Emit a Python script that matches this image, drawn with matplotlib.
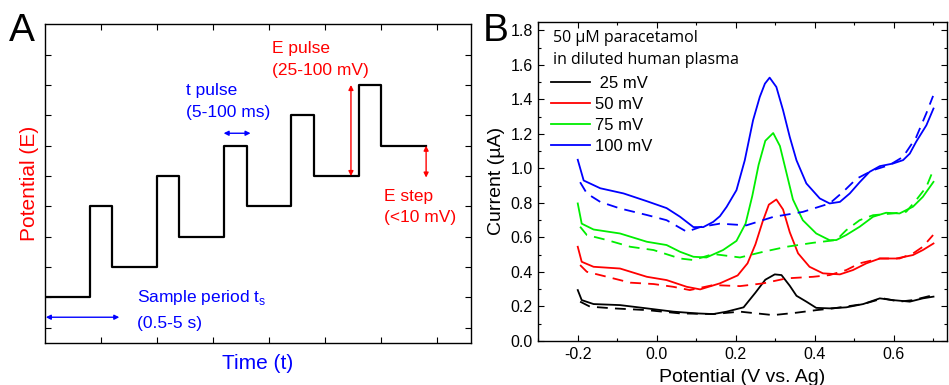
import numpy as np
import matplotlib
matplotlib.use('Agg')
import matplotlib.pyplot as plt

plt.rcParams['font.family'] = ['Liberation Sans', 'DejaVu Sans']

# panel A - pulse waveform (time in sample-period units, potential in step units)
wave_t = [0, 0.8, 0.8, 1.2, 1.2, 2.0, 2.0, 2.4, 2.4, 3.2, 3.2, 3.6, 3.6, 4.4, 4.4, 4.8, 4.8, 5.6, 5.6, 6.0, 6.0, 6.8]
wave_e = [1, 1, 4, 4, 2, 2, 5, 5, 3, 3, 6, 6, 4, 4, 7, 7, 5, 5, 8, 8, 6, 6]

# panel B - DPV curves, solid = sample, dashed = blank
black_x = [-0.200, -0.190, -0.160, -0.093, -0.025, 0.042, 0.101, 0.143, 0.177, 0.220, 0.250, 0.275, 0.299, 0.316, 0.337, 0.354, 0.379, 0.404, 0.438, 0.480, 0.523, 0.565, 0.598, 0.641, 0.674, 0.701]
black_y = [0.295, 0.237, 0.214, 0.208, 0.189, 0.170, 0.160, 0.156, 0.170, 0.195, 0.280, 0.355, 0.386, 0.382, 0.320, 0.262, 0.228, 0.192, 0.189, 0.195, 0.214, 0.247, 0.237, 0.228, 0.247, 0.257]
black_dx = [-0.194, -0.169, -0.110, -0.025, 0.059, 0.143, 0.211, 0.253, 0.295, 0.354, 0.405, 0.447, 0.523, 0.573, 0.615, 0.649, 0.701]
black_dy = [0.228, 0.199, 0.189, 0.179, 0.160, 0.156, 0.170, 0.160, 0.150, 0.164, 0.179, 0.189, 0.214, 0.247, 0.228, 0.237, 0.266]

red_x = [-0.200, -0.190, -0.160, -0.093, -0.025, 0.025, 0.076, 0.110, 0.160, 0.205, 0.230, 0.250, 0.268, 0.284, 0.303, 0.320, 0.337, 0.358, 0.387, 0.421, 0.464, 0.497, 0.531, 0.565, 0.607, 0.649, 0.674, 0.701]
red_y = [0.546, 0.459, 0.430, 0.420, 0.372, 0.353, 0.314, 0.299, 0.334, 0.380, 0.450, 0.560, 0.690, 0.790, 0.820, 0.762, 0.630, 0.508, 0.430, 0.392, 0.386, 0.411, 0.450, 0.478, 0.478, 0.498, 0.527, 0.565]
red_dx = [-0.194, -0.177, -0.126, -0.067, -0.008, 0.042, 0.084, 0.143, 0.211, 0.270, 0.329, 0.396, 0.438, 0.480, 0.514, 0.565, 0.615, 0.649, 0.674, 0.700]
red_dy = [0.440, 0.401, 0.372, 0.338, 0.330, 0.314, 0.295, 0.324, 0.318, 0.334, 0.363, 0.372, 0.382, 0.411, 0.450, 0.478, 0.478, 0.507, 0.546, 0.614]

green_x = [-0.200, -0.190, -0.160, -0.093, -0.025, 0.025, 0.059, 0.093, 0.126, 0.168, 0.202, 0.225, 0.242, 0.258, 0.275, 0.295, 0.312, 0.328, 0.345, 0.370, 0.404, 0.438, 0.455, 0.480, 0.514, 0.548, 0.581, 0.615, 0.649, 0.674, 0.701]
green_y = [0.797, 0.680, 0.646, 0.623, 0.575, 0.556, 0.517, 0.488, 0.484, 0.527, 0.580, 0.680, 0.840, 1.020, 1.160, 1.205, 1.130, 0.980, 0.820, 0.700, 0.623, 0.584, 0.585, 0.614, 0.662, 0.720, 0.743, 0.739, 0.778, 0.835, 0.922]
green_dx = [-0.194, -0.177, -0.126, -0.067, -0.008, 0.059, 0.093, 0.143, 0.211, 0.270, 0.329, 0.396, 0.455, 0.480, 0.514, 0.548, 0.598, 0.632, 0.657, 0.683, 0.701]
green_dy = [0.662, 0.614, 0.585, 0.546, 0.527, 0.478, 0.469, 0.504, 0.484, 0.517, 0.546, 0.569, 0.585, 0.642, 0.700, 0.729, 0.739, 0.749, 0.816, 0.893, 0.994]

blue_x = [-0.200, -0.185, -0.143, -0.084, -0.025, 0.025, 0.059, 0.093, 0.118, 0.143, 0.160, 0.177, 0.202, 0.223, 0.244, 0.261, 0.274, 0.286, 0.303, 0.320, 0.337, 0.354, 0.379, 0.413, 0.438, 0.464, 0.489, 0.514, 0.539, 0.565, 0.598, 0.624, 0.641, 0.657, 0.683, 0.701]
blue_y = [1.050, 0.930, 0.885, 0.855, 0.810, 0.770, 0.720, 0.660, 0.660, 0.690, 0.723, 0.777, 0.874, 1.047, 1.279, 1.414, 1.491, 1.526, 1.472, 1.337, 1.182, 1.047, 0.913, 0.826, 0.797, 0.806, 0.855, 0.920, 0.980, 1.013, 1.028, 1.048, 1.086, 1.154, 1.250, 1.347]
blue_dx = [-0.194, -0.177, -0.143, -0.093, -0.025, 0.025, 0.076, 0.110, 0.160, 0.227, 0.295, 0.370, 0.438, 0.472, 0.506, 0.548, 0.590, 0.624, 0.657, 0.683, 0.700]
blue_dy = [0.920, 0.855, 0.806, 0.768, 0.730, 0.700, 0.633, 0.660, 0.680, 0.670, 0.719, 0.748, 0.797, 0.864, 0.940, 0.990, 1.020, 1.067, 1.180, 1.320, 1.420]

labels = [' 25 mV', '50 mV', '75 mV', '100 mV']
colors = ['black', '#ff0000', '#00ee00', '#0000ff']

fig = plt.figure(figsize=(9.49, 3.85), dpi=100)

# ---------------- panel A ----------------
axA = fig.add_axes([0.0471, 0.109, 0.4492, 0.828])
axA.plot(wave_t, wave_e, color='black', lw=1.6)
axA.set_xlim(0, 7.6)
axA.set_ylim(-0.5, 10)
axA.set_xticks(np.arange(1, 8))
axA.set_yticks(np.arange(0, 10))
axA.tick_params(direction='in', top=True, right=True, length=4, width=0.8,
                labelbottom=False, labelleft=False)
for s in axA.spines.values():
    s.set_linewidth(1.0)
axA.set_xlabel('Time (t)', color='#0000ff', fontsize=15, labelpad=8)
axA.set_ylabel('Potential (E)', color='#ff0000', fontsize=15, labelpad=4)

red = '#ff0000'
blue = '#0000ff'
arr = dict(arrowstyle='<|-|>', lw=1.0, mutation_scale=7, shrinkA=0, shrinkB=0)
axA.annotate('', xy=(5.46, 8), xytext=(5.46, 5), arrowprops=dict(arr, color=red))
axA.annotate('', xy=(6.8, 6), xytext=(6.8, 4.95), arrowprops=dict(arr, color=red))
axA.annotate('', xy=(3.19, 6.41), xytext=(3.67, 6.41), arrowprops=dict(arr, color=blue))
axA.annotate('', xy=(0.02, 0.35), xytext=(1.33, 0.35), arrowprops=dict(arr, color=blue))

axA.text(4.06, 9.21, 'E pulse', color=red, fontsize=12.5, va='center')
axA.text(4.06, 8.49, '(25-100 mV)', color=red, fontsize=12.5, va='center')
axA.text(2.52, 7.81, 't pulse', color=blue, fontsize=12.5, va='center')
axA.text(2.52, 7.10, '(5-100 ms)', color=blue, fontsize=12.5, va='center')
axA.text(6.05, 4.32, 'E step', color=red, fontsize=12.5, va='center')
axA.text(6.05, 3.62, '(<10 mV)', color=red, fontsize=12.5, va='center')
axA.text(1.65, 1.0, 'Sample period t$_\\mathregular{s}$', color=blue, fontsize=12.5, va='center')
axA.text(1.65, 0.15, '(0.5-5 s)', color=blue, fontsize=12.5, va='center')

fig.text(0.009, 0.965, 'A', fontsize=28, va='top', ha='left')

# ---------------- panel B ----------------
axB = fig.add_axes([0.5672, 0.1143, 0.4306, 0.8293])
curves = [(black_x, black_y, black_dx, black_dy),
          (red_x, red_y, red_dx, red_dy),
          (green_x, green_y, green_dx, green_dy),
          (blue_x, blue_y, blue_dx, blue_dy)]
handles = []
for (x, y, dx, dy), c, lab in zip(curves, colors, labels):
    h, = axB.plot(x, y, color=c, lw=1.3, label=lab)
    axB.plot(dx, dy, color=c, lw=1.3, linestyle=(0, (6, 4)))
    handles.append(h)

axB.set_xlim(-0.3, 0.735)
axB.set_ylim(0, 1.85)
axB.set_xticks([-0.2, 0.0, 0.2, 0.4, 0.6])
axB.set_xticklabels(['-0.2', '0.0', '0.2', '0.4', '0.6'])
axB.set_yticks(np.arange(0, 1.81, 0.2))
axB.set_yticklabels(['%.1f' % v for v in np.arange(0, 1.81, 0.2)])
axB.set_xticks(np.arange(-0.3, 0.74, 0.1), minor=True)
axB.set_yticks(np.arange(0.1, 1.85, 0.2), minor=True)
axB.tick_params(which='both', direction='in', top=True, right=True, labelsize=11.5)
axB.tick_params(which='major', length=4, width=0.8, pad=4)
axB.tick_params(which='minor', length=2, width=0.8)
for s in axB.spines.values():
    s.set_linewidth(1.0)
axB.set_xlabel('Potential (V vs. Ag)', fontsize=14, labelpad=5.5)
axB.set_ylabel('Current (µA)', fontsize=14, labelpad=4)

axB.text(0.035, 0.949, '50 µM paracetamol', fontsize=11.5, family=['Open Sans', 'DejaVu Sans'],
         transform=axB.transAxes, va='center')
axB.text(0.035, 0.880, 'in diluted human plasma', fontsize=11.5, family=['Open Sans', 'DejaVu Sans'],
         transform=axB.transAxes, va='center')
axB.legend(handles=handles, loc='upper left', bbox_to_anchor=(0.031, 0.829), frameon=False,
           fontsize=12, handlelength=2.35, handletextpad=0.3, labelspacing=0.36,
           borderpad=0, borderaxespad=0)

fig.text(0.509, 0.965, 'B', fontsize=28, va='top', ha='left')

fig.savefig('out.png', dpi=100)
